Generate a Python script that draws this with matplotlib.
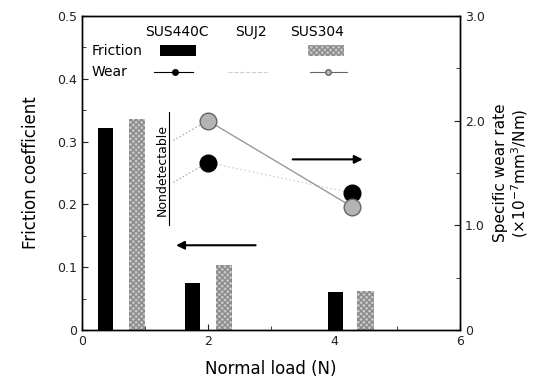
import matplotlib.pyplot as plt
from matplotlib.ticker import MultipleLocator

# --- data ---
materials = ['SUS440C', 'SUJ2', 'SUS304']
bar_x_440c = [0.37, 1.75, 4.02]
friction_440c = [0.322, 0.075, 0.060]
bar_x_304 = [0.87, 2.25, 4.50]
friction_304 = [0.336, 0.103, 0.062]

wear_x = [2.0, 4.28]
wear_440c = [1.60, 1.31]
wear_304 = [2.00, 1.18]
nd_x = 1.45                 # lines fade in from the "Nondetectable" note
nd_440c = 1.41
nd_304 = 1.81

plt.rcParams['font.family'] = 'DejaVu Sans'
fig = plt.figure(figsize=(5.57, 3.87), dpi=100)
ax = fig.add_axes([0.147, 0.147, 0.679, 0.812])
ax2 = ax.twinx()

grey_bar = dict(color='#c8c8c8', hatch='xxxxxx', edgecolor='#8a8a8a', linewidth=0)

# --- friction bars ---
ax.bar(bar_x_440c, friction_440c, width=0.24, color='black', zorder=2)
ax.bar(bar_x_304, friction_304, width=0.26, zorder=2, **grey_bar)

ax.set_xlim(0, 6)
ax.set_ylim(0, 0.5)
ax.xaxis.set_major_locator(MultipleLocator(2))
ax.xaxis.set_minor_locator(MultipleLocator(1))
ax.set_yticks([0, 0.1, 0.2, 0.3, 0.4, 0.5], ['0', '0.1', '0.2', '0.3', '0.4', '0.5'])
ax.yaxis.set_minor_locator(MultipleLocator(0.05))
ax.tick_params(which='both', direction='in', labelsize=9, colors='#222222')
ax.tick_params(which='major', length=4)
ax.tick_params(which='minor', length=3)
ax.set_xlabel('Normal load (N)', fontsize=12, labelpad=9)
ax.set_ylabel('Friction coefficient', fontsize=12, labelpad=12)

# --- wear points ---
ax2.plot([nd_x, wear_x[0]], [nd_304, wear_304[0]], ls=':', color='#aaaaaa', lw=1)
ax2.plot([nd_x, wear_x[0]], [nd_440c, wear_440c[0]], ls=':', color='#aaaaaa', lw=1)
ax2.plot(wear_x, wear_440c, ls=(0, (1, 2)), color='#cccccc', lw=1, zorder=1)
ax2.plot(wear_x, wear_440c, ls='none', marker='o', ms=12, color='black', zorder=3)
ax2.plot(wear_x, wear_304, ls='-', color='#999999', lw=1, marker='o', ms=12,
         mfc='#b4b4b4', mec='#666666', mew=1, zorder=4)

ax2.set_ylim(0, 3.0)
ax2.set_yticks([0, 1.0, 2.0, 3.0], ['0', '1.0', '2.0', '3.0'])
ax2.yaxis.set_minor_locator(MultipleLocator(0.5))
ax2.tick_params(which='both', direction='in', labelsize=9, colors='#222222')
ax2.tick_params(which='major', length=4)
ax2.tick_params(which='minor', length=3)
ax2.set_ylabel('Specific wear rate\n(×10$^{-7}$mm$^3$/Nm)', fontsize=11,
               labelpad=6, linespacing=1.1)

# --- annotations ---
ax2.text(1.27, 1.53, 'Nondetectable', rotation=90, ha='center', va='center',
         fontsize=9)
ax2.plot([1.38, 1.38], [1.0, 2.08], color='black', lw=0.8)
ax.annotate('', xy=(1.45, 0.135), xytext=(2.8, 0.135),
            arrowprops=dict(arrowstyle='-|>', color='black', lw=1.5,
                            mutation_scale=12))
ax2.annotate('', xy=(4.5, 1.63), xytext=(3.3, 1.63),
             arrowprops=dict(arrowstyle='-|>', color='black', lw=1.5,
                             mutation_scale=12))

# --- hand-made legend ---
hx = [1.51, 2.68, 3.73]
for x, name in zip(hx, materials):
    ax.text(x, 0.475, name, ha='center', va='center', fontsize=10)
ax.text(0.15, 0.444, 'Friction', ha='left', va='center', fontsize=10)
ax.text(0.15, 0.411, 'Wear', ha='left', va='center', fontsize=10)
ax.bar([1.52], [0.018], bottom=0.436, width=0.57, color='black')
ax.bar([3.88], [0.018], bottom=0.436, width=0.57, **grey_bar)
ax.plot([1.14, 1.76], [0.411, 0.411], color='black', lw=0.8)
ax.plot([1.48], [0.411], 'o', color='black', ms=4)
ax.plot([2.32, 2.94], [0.411, 0.411], color='#cccccc', lw=0.8, ls='--')
ax.plot([3.62, 4.2], [0.411, 0.411], color='#666666', lw=0.8)
ax.plot([3.9], [0.411], 'o', mfc='#b4b4b4', mec='#666666', ms=4)

for a in (ax, ax2):
    for s in a.spines.values():
        s.set_linewidth(1.0)

fig.savefig('out.png', dpi=100)
